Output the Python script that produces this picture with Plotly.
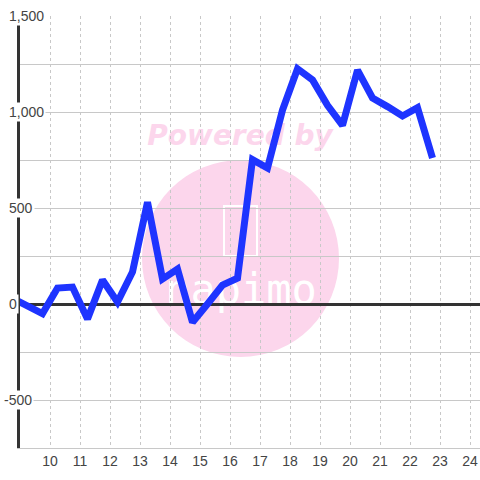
import plotly.graph_objects as go

# ---- data ----
x_vals = [8.75, 9.25, 9.75, 10.25, 10.75, 11.25, 11.75, 12.25, 12.75, 13.25,
          13.75, 14.25, 14.75, 15.25, 15.75, 16.25, 16.75, 17.25, 17.75, 18.25,
          18.75, 19.25, 19.75, 20.25, 20.75, 21.25, 21.75, 22.25, 22.75]
y_vals = [30, -10, -50, 83, 88, -78, 125, 10, 167, 530,
          130, 182, -95, 0, 99, 135, 752, 708, 1010, 1225,
          1167, 1035, 930, 1218, 1073, 1028, 979, 1022, 760]

x_tick_vals = [10, 11, 12, 13, 14, 15, 16, 17, 18, 19, 20, 21, 22, 23, 24]
x_tick_text = ["10", "11", "12", "13", "14", "15", "16", "17", "18", "19",
               "20", "21", "22", "23", "24"]
y_grid_vals = [-750, -500, -250, 0, 250, 500, 750, 1000, 1250, 1500]
y_label_vals = [-500, 0, 500, 1000, 1500]
y_label_text = ["-500", "0", "500", "1,000", "1,500"]

# ---- layout geometry (pixels) ----
W, H = 480, 480
L, R, T, B = 20, 0, 16, 32
PW, PH = W - L - R, H - T - B


def px(xp):
    return (xp - L) / PW


def py(yp):
    return 1 - (yp - T) / PH


PINK = "rgb(252,214,236)"
BLUE = "rgb(30,52,255)"

fig = go.Figure()
fig.add_trace(go.Scatter(
    x=x_vals, y=y_vals, mode="lines",
    line=dict(color=BLUE, width=7),
    hoverinfo="skip", showlegend=False,
))

shapes = [
    # watermark circle
    dict(type="circle", xref="paper", yref="paper", layer="below",
         x0=px(142), x1=px(339), y0=py(160), y1=py(357),
         fillcolor=PINK, line=dict(width=0)),
    # "Powered by" text holder
    dict(type="rect", xref="paper", yref="paper", layer="below",
         x0=px(140), x1=px(340), y0=py(118), y1=py(148),
         fillcolor="rgba(0,0,0,0)", line=dict(width=0),
         label=dict(text="<b><i>Powered by</i></b>", textposition="middle center",
                    font=dict(family="DejaVu Sans", size=28, color=PINK))),
    # logo box
    dict(type="rect", xref="paper", yref="paper", layer="below",
         x0=px(224), x1=px(257), y0=py(206), y1=py(256),
         fillcolor="rgba(0,0,0,0)", line=dict(width=2, color="white")),
    # logo text
    dict(type="rect", xref="paper", yref="paper", layer="below",
         x0=px(170), x1=px(312), y0=py(268), y1=py(304),
         fillcolor="rgba(0,0,0,0)", line=dict(width=0),
         label=dict(text="napimo", textposition="middle center",
                    font=dict(family="DejaVu Sans Mono", size=42, color="white"))),
]

annotations = []
for v, t in zip(y_label_vals, y_label_text):
    annotations.append(dict(
        x=px(7), xref="paper", y=v, yref="y", text=t, showarrow=False,
        xanchor="left", yanchor="middle", xshift=-5 if t.startswith("-") else 0,
        font=dict(family="Liberation Sans, Arial", size=14, color="#444"),
        bgcolor="white", borderpad=1,
    ))

fig.update_layout(
    width=W, height=H,
    margin=dict(l=L, r=R, t=T, b=B),
    paper_bgcolor="white", plot_bgcolor="white",
    shapes=shapes, annotations=annotations,
    xaxis=dict(
        range=[9, 9 + PW / 30], tickvals=x_tick_vals, ticktext=x_tick_text,
        showgrid=True, gridcolor="#c8c8c8", griddash="dot", gridwidth=1,
        zeroline=False, showline=True, linecolor="#c8c8c8", linewidth=1,
        ticks="", tickfont=dict(family="Liberation Sans, Arial", size=14, color="#444"),
        fixedrange=True,
    ),
    yaxis=dict(
        range=[-750, 1500], tickvals=y_grid_vals, showticklabels=False,
        showgrid=True, gridcolor="#c8c8c8", gridwidth=1,
        zeroline=True, zerolinecolor="#333", zerolinewidth=3,
        showline=True, linecolor="#333", linewidth=3, ticks="",
        fixedrange=True,
    ),
)

fig.write_html("out.html", config={"displayModeBar": False},
               post_script="document.body.style.margin='0px';")
